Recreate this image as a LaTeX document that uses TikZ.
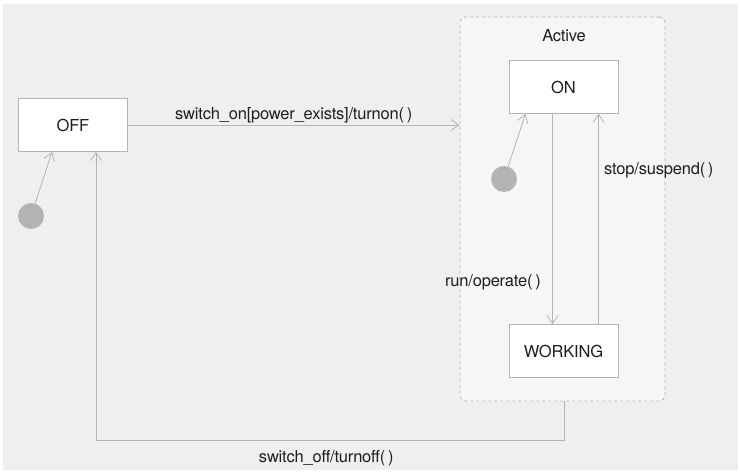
\documentclass[tikz,border=0pt]{standalone}
\usepackage{fontspec}
\setmainfont[LetterSpace=-1.2]{TeX Gyre Heros}
\usetikzlibrary{arrows.meta}
\definecolor{bgcol}{HTML}{EEEFEE}
\definecolor{boxcol}{HTML}{F5F6F5}
\definecolor{linecol}{HTML}{B4B4B4}
\definecolor{txtcol}{HTML}{1E1E1E}

\begin{document}
\begin{tikzpicture}[x=1pt,y=-1pt,
  every node/.style={font=\fontsize{16.5}{19}\selectfont,text=txtcol},
  state/.style={draw=linecol,line width=0.8pt,fill=white,minimum width=109pt,minimum height=53pt,inner sep=0pt},
  superstate/.style={draw=linecol,line width=0.8pt,dashed,rounded corners=6pt,fill=boxcol,minimum width=205pt,minimum height=384pt,inner sep=0pt},
  initdot/.style={circle,fill=linecol,minimum size=26pt,inner sep=0pt},
  trans/.style={draw=linecol,line width=0.8pt,-{Straight Barb[length=8pt,width=11pt]}}]
  \useasboundingbox (0,0) rectangle (740,473);
  \fill[bgcol] (3,4) rectangle (738,470);
  %left
  \node[state] (off) at (73,125) {OFF};
  \node[initdot] (dotoff) at (31,216) {};
  \draw[trans] (dotoff) -- ([xshift=-21pt]off.south);
  %active
  \node[superstate] (active) at (562.5,209) {};
  \node (activetitle) at (564,36) {Active};
  \node[state] (on) at (563.5,87) {ON};
  \node[state] (working) at (563.5,351) {WORKING};
  \node[initdot] (doton) at (504,179) {};
  \draw[trans] (doton) -- ([xshift=-38pt]on.south);
  %transitions
  \draw[trans] (off.east) -- node[above=-2pt]{switch\_on[power\_exists]/turnon(\,)} (active.west |- off.east);
  \draw[trans] ([xshift=-11pt]on.south) -- node[left=8pt,pos=0.8]{run/operate(\,)} ([xshift=-11pt]working.north);
  \draw[trans] ([xshift=35pt]working.north) -- node[right=2pt,pos=0.73]{stop/suspend(\,)} ([xshift=35pt]on.south);
  \draw[trans] ([xshift=1.5pt]active.south) -- ++(0,39) -| node[below=6pt,pos=0.254]{switch\_off/turnoff(\,)} ([xshift=23pt]off.south);
\end{tikzpicture}
\end{document}
